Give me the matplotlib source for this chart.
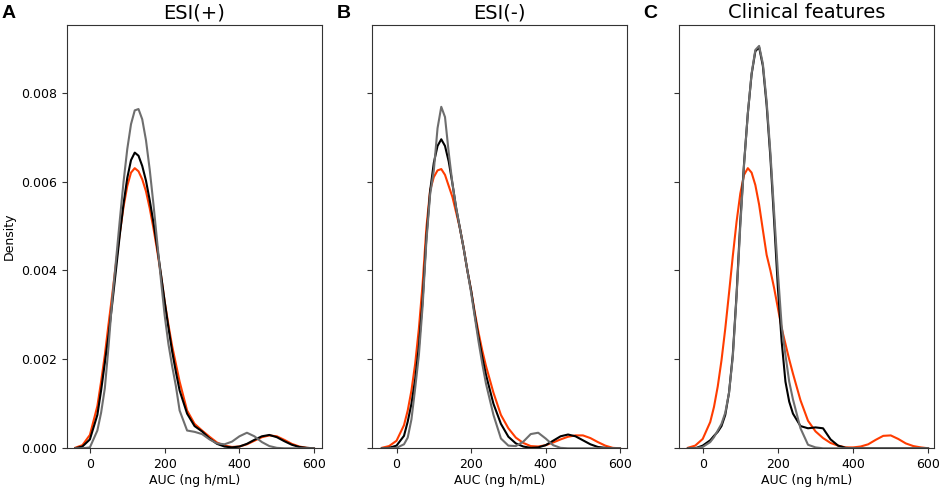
import matplotlib
matplotlib.use("Agg")
import matplotlib.pyplot as plt
import numpy as np

auc_grid = [-40, -20, 0, 20,
            30, 40, 50, 60, 70, 80, 90, 100, 110, 120, 130, 140, 150, 160, 170,
            180, 190, 200, 210, 220, 230, 240,
            260, 280, 300, 320, 340, 360, 380, 400, 420, 440, 460, 480, 500,
            520, 540, 560, 580, 600]

# densities in units of 1e-3
esi_pos_red = [0.01, 0.07, 0.30, 0.95,
               1.50, 2.10, 2.80, 3.47, 4.17, 4.84, 5.43, 5.90, 6.20, 6.30, 6.23,
               6.05, 5.78, 5.40, 4.95, 4.45, 3.90, 3.30, 2.78, 2.30, 1.90, 1.50,
               0.85, 0.55, 0.40, 0.26, 0.13, 0.06, 0.03, 0.04, 0.09, 0.17, 0.25,
               0.29, 0.27, 0.19, 0.10, 0.04, 0.01, 0.00]
esi_pos_black = [0.00, 0.04, 0.20, 0.75,
                 1.30, 1.92, 2.55, 3.27, 4.03, 4.80, 5.50, 6.08, 6.48, 6.65, 6.58,
                 6.35, 6.02, 5.58, 5.08, 4.52, 3.92, 3.30, 2.72, 2.18, 1.72, 1.30,
                 0.78, 0.50, 0.38, 0.22, 0.10, 0.04, 0.02, 0.04, 0.10, 0.19, 0.27,
                 0.30, 0.25, 0.16, 0.08, 0.03, 0.01, 0.00]
esi_pos_gray = [0.00, 0.00, 0.02, 0.40,
                0.80, 1.35, 2.30, 3.37, 4.24, 5.13, 5.99, 6.73, 7.29, 7.60, 7.63,
                7.40, 6.93, 6.27, 5.49, 4.64, 3.79, 2.99, 2.35, 1.85, 1.40, 0.85,
                0.40, 0.37, 0.32, 0.20, 0.11, 0.09, 0.15, 0.27, 0.35, 0.27, 0.14,
                0.05, 0.01, 0.00, 0.00, 0.00, 0.00, 0.00]

esi_neg_red = [0.01, 0.05, 0.17, 0.52,
               0.85, 1.30, 1.90, 2.70, 3.70, 4.95, 5.80, 6.10, 6.25, 6.28, 6.15,
               5.90, 5.65, 5.30, 4.95, 4.50, 4.00, 3.55, 3.05, 2.60, 2.20, 1.85,
               1.25, 0.75, 0.45, 0.24, 0.12, 0.05, 0.04, 0.07, 0.13, 0.20, 0.26,
               0.29, 0.29, 0.23, 0.14, 0.06, 0.01, 0.00]
esi_neg_black = [0.00, 0.01, 0.06, 0.28,
                 0.60, 1.00, 1.55, 2.30, 3.34, 4.73, 5.78, 6.42, 6.80, 6.95, 6.80,
                 6.45, 5.95, 5.40, 4.95, 4.50, 4.00, 3.55, 3.00, 2.50, 2.05, 1.65,
                 1.00, 0.55, 0.26, 0.11, 0.04, 0.01, 0.02, 0.07, 0.17, 0.27, 0.31,
                 0.27, 0.18, 0.09, 0.03, 0.01, 0.00, 0.00]
esi_neg_gray = [0.00, 0.00, 0.01, 0.09,
                0.24, 0.65, 1.35, 2.10, 3.20, 4.65, 5.70, 6.25, 7.20, 7.68, 7.45,
                6.65, 5.95, 5.40, 4.95, 4.50, 4.00, 3.50, 2.95, 2.40, 1.90, 1.45,
                0.75, 0.22, 0.06, 0.05, 0.15, 0.32, 0.35, 0.22, 0.07, 0.01, 0.00,
                0.00, 0.00, 0.00, 0.00, 0.00, 0.00, 0.00]

clin_red = [0.01, 0.06, 0.21, 0.59,
            0.93, 1.39, 1.98, 2.69, 3.49, 4.32, 5.09, 5.73, 6.15, 6.30, 6.20,
            5.92, 5.48, 4.91, 4.35, 4.00, 3.60, 3.15, 2.70, 2.35, 2.00, 1.68,
            1.08, 0.62, 0.38, 0.23, 0.12, 0.06, 0.02, 0.02, 0.04, 0.09, 0.19,
            0.28, 0.29, 0.21, 0.11, 0.05, 0.02, 0.00]
clin_black = [0.00, 0.00, 0.06, 0.18,
              0.28, 0.37, 0.50, 0.75, 1.25, 2.10, 3.45, 5.10, 6.41, 7.53, 8.41,
              8.93, 9.02, 8.60, 7.72, 6.54, 5.10, 3.60, 2.40, 1.50, 1.05, 0.78,
              0.50, 0.45, 0.47, 0.45, 0.20, 0.06, 0.01, 0.00, 0.00, 0.00, 0.00,
              0.00, 0.00, 0.00, 0.00, 0.00, 0.00, 0.00]
clin_gray = [0.00, 0.00, 0.03, 0.14,
             0.25, 0.40, 0.55, 0.80, 1.25, 2.05, 3.40, 5.00, 6.38, 7.53, 8.43,
             8.96, 9.05, 8.65, 7.80, 6.65, 5.30, 3.95, 2.75, 2.10, 1.50, 1.10,
             0.45, 0.08, 0.02, 0.00, 0.00, 0.00, 0.00, 0.00, 0.00, 0.00, 0.00,
             0.00, 0.00, 0.00, 0.00, 0.00, 0.00, 0.00]

panel_titles = ["ESI(+)", "ESI(-)", "Clinical features"]
panel_letters = ["A", "B", "C"]
x_ticks = [0, 200, 400, 600]
y_ticks = [0.000, 0.002, 0.004, 0.006, 0.008]

RED = "#ff3c00"
BLACK = "#000000"
GRAY = "#6e6e6e"

panels = [
    (esi_pos_red, esi_pos_black, esi_pos_gray),
    (esi_neg_red, esi_neg_black, esi_neg_gray),
    (clin_red, clin_black, clin_gray),
]

fig = plt.figure(figsize=(9.41, 4.91), dpi=100)
lefts = [66.7 / 941, 372.3 / 941, 679.0 / 941]
xlims = [(-62, 620), (-65, 619), (-63, 615)]
letter_x = [2 / 941, 337 / 941, 643 / 941]
bottom = (491 - 448.3) / 491
height = (448.3 - 25) / 491
width = 255 / 941

x = np.array(auc_grid, dtype=float)
for i, (curves, title, letter) in enumerate(zip(panels, panel_titles, panel_letters)):
    ax = fig.add_axes([lefts[i], bottom, width, height])
    for yv, col in zip(curves, [RED, BLACK, GRAY]):
        ax.plot(x, np.array(yv) * 1e-3, color=col, lw=1.5,
                solid_joinstyle="round", solid_capstyle="round")
    ax.set_xlim(*xlims[i])
    ax.set_ylim(0, 0.00952)
    ax.set_xticks(x_ticks)
    ax.set_yticks(y_ticks)
    ax.tick_params(labelsize=9, color="#333333")
    if i == 0:
        ax.set_yticklabels([f"{v:.3f}" for v in y_ticks])
        ax.set_ylabel("Density", fontsize=9)
    else:
        ax.set_yticklabels([])
    ax.set_xlabel("AUC (ng h/mL)", fontsize=9, labelpad=2)
    ax.set_title(title, fontsize=14, pad=5)
    for s in ax.spines.values():
        s.set_color("#333333")
    fig.text(letter_x[i], 0.99, letter, fontsize=14, fontweight="bold",
             family=["Liberation Sans", "DejaVu Sans"], va="top", ha="left")

fig.savefig("out.png", dpi=100)
